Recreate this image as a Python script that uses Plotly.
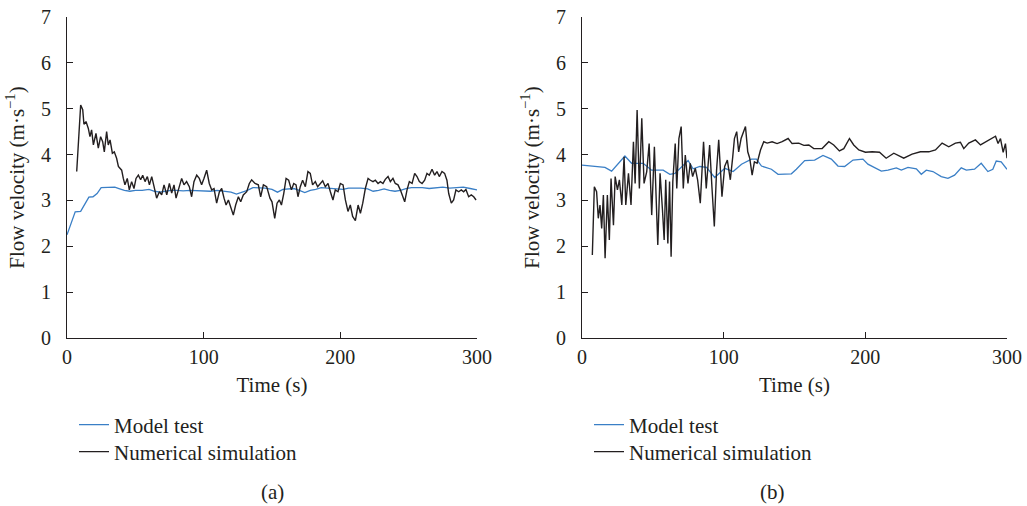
import plotly.graph_objects as go

# (a) model test
a_model_t = [0, 3, 6, 10, 13, 16, 19, 22, 25, 30, 35, 38, 42, 46, 50, 55, 60, 64, 68, 72, 76, 80, 85, 90, 95,
             100, 105, 110, 115, 120, 124, 128, 132, 136, 140, 145, 150, 154, 158, 162, 166, 170, 174, 178,
             182, 186, 190, 194, 198, 202, 206, 210, 215, 220, 224, 228, 232, 236, 240, 244, 248, 252, 256,
             260, 265, 270, 275, 280, 285, 290, 295, 300]
a_model_v = [2.25, 2.5, 2.75, 2.76, 2.9, 3.07, 3.08, 3.15, 3.28, 3.28, 3.29, 3.26, 3.22, 3.2, 3.22, 3.22, 3.24,
             3.2, 3.18, 3.2, 3.22, 3.22, 3.21, 3.22, 3.21, 3.21, 3.2, 3.22, 3.2, 3.18, 3.14, 3.18, 3.22, 3.28,
             3.28, 3.27, 3.24, 3.18, 3.24, 3.25, 3.26, 3.22, 3.17, 3.22, 3.24, 3.28, 3.27, 3.26, 3.25, 3.24,
             3.27, 3.27, 3.27, 3.25, 3.2, 3.22, 3.25, 3.22, 3.2, 3.22, 3.26, 3.28, 3.28, 3.28, 3.26, 3.28,
             3.29, 3.27, 3.28, 3.29, 3.26, 3.23]

# (a) numerical simulation
a_sim_t = [7.1, 10, 11.5, 12.4, 13.9, 15.6, 16.8, 18, 19.3, 21.2, 22.9, 24.6, 26.1, 27.3, 29, 30.2, 31.5,
           33.2, 34.6, 36.3, 37.6, 40, 41.2, 42.4, 44.1, 45.6, 47.3, 49, 50.5, 52.2, 53.9, 55.4, 57.1,
           58.8, 60.3, 62, 63.7, 65.6, 67.6, 69.3, 71, 73, 74.9, 76.6, 78.3, 79.8, 81.5, 83.9, 85.6, 87.5,
           89.5, 91.2, 92.9, 94.9, 96.8, 98.5, 100.2, 102.2, 104.1, 105.9, 107.6, 109.5, 111.5, 113.2,
           114.9, 116.4, 118.1, 119.8, 121.7, 123.4, 125.4, 127.1, 129, 131.5, 133.4, 135.1, 137.6, 140,
           141.7, 143.7, 146.1, 148.5,
           150, 152, 153.7, 155.4, 156.9, 158.6, 160.3, 162.2, 164.2, 165.9, 167.6, 169, 170.7, 172.4,
           174.4, 176.3, 178, 179.7, 181.7, 183.4, 185.4, 187.1, 189, 191, 192.7, 194.6, 196.3, 198.3,
           200, 202, 203.7, 205.6, 207.3, 209, 211, 213, 214.7, 216.4, 218.3, 220.3, 222, 223.9, 225.6,
           227.6, 229.3, 231.2, 232.9, 234.9, 236.6, 238.5, 240.2, 242.2, 243.9, 245.6, 247.1, 248.8,
           250.5, 252.5, 254.4, 256.1, 257.8, 259.8, 261.7, 263.4, 265.1, 267.1, 269, 270.7, 272.4,
           274.4, 276.3, 278, 279.3, 281.2, 282.9, 284.6, 286.6, 288.5, 290.2, 291.9, 293.9, 295.8,
           297.6, 299.3]
a_sim_v = [3.63, 5.08, 4.98, 4.66, 4.72, 4.57, 4.39, 4.54, 4.21, 4.46, 4.14, 4.39, 4.28, 4.06, 4.5, 4.21,
           4.32, 4.03, 4.06, 3.92, 3.74, 3.66, 3.48, 3.34, 3.48, 3.23, 3.41, 3.26, 3.48, 3.55, 3.45, 3.55,
           3.41, 3.52, 3.34, 3.52, 3.3, 3.05, 3.19, 3.12, 3.34, 3.12, 3.37, 3.16, 3.34, 3.05, 3.23, 3.48,
           3.34, 3.41, 3.3, 3.08, 3.41, 3.55, 3.48, 3.34, 3.48, 3.66, 3.37, 3.23, 3.26, 2.94, 3.19, 3.26,
           3.05, 2.9, 3.01, 2.83, 2.68, 2.9, 3.08, 2.97, 3.12, 3.19, 3.37, 3.45, 3.37, 3.34, 3.08, 3.34,
           3.3, 3.05,
           2.97, 2.61, 2.94, 3.01, 2.9, 3.15, 3.48, 3.44, 3.23, 3.37, 3.34, 3.08, 3.3, 3.44, 3.3, 3.63,
           3.59, 3.34, 3.41, 3.3, 3.37, 3.43, 3.3, 3.37, 3.19, 3.01, 3.23, 3.19, 3.37, 3.34, 3.01, 2.76,
           2.9, 2.65, 2.56, 2.9, 2.72, 2.94, 3.26, 3.48, 3.44, 3.41, 3.44, 3.37, 3.41, 3.37, 3.46, 3.52,
           3.41, 3.48, 3.37, 3.34, 3.23, 3.08, 2.97, 3.23, 3.41, 3.37, 3.59, 3.52, 3.41, 3.37, 3.44, 3.59,
           3.55, 3.68, 3.55, 3.63, 3.52, 3.63, 3.59, 3.44, 3.15, 2.94, 3.01, 3.23, 3.19, 3.23, 3.19, 3.24,
           3.08, 3.12, 3.08, 3.01]

# (b) model test
b_model_t = [0, 16.2, 20.9, 30.3, 35, 43.2, 49.1, 57.3, 62, 65.6, 74.9, 78.4, 83.2, 87.9, 93.7, 100.8,
             106.7, 112.6, 119.6, 123.1, 126.7, 133.7, 138.4, 147.8, 151.3, 157.2, 164.2, 170.1, 176,
             180.7, 185.4, 191.3, 198.3, 201.8, 211.3, 216, 221.9, 225.4, 230.1, 236, 239.5, 243, 247.7,
             253.6, 258.3, 263, 267.7, 271.3, 277.1, 281.8, 286.5, 290, 292.4, 295.9, 300]
b_model_v = [3.77, 3.72, 3.64, 3.97, 3.81, 3.81, 3.66, 3.66, 3.57, 3.59, 3.87, 3.69, 3.74, 3.72, 3.5, 3.7,
             3.63, 3.79, 3.9, 3.9, 3.75, 3.68, 3.57, 3.58, 3.68, 3.87, 3.88, 3.98, 3.9, 3.75, 3.74, 3.88,
             3.9, 3.79, 3.64, 3.66, 3.71, 3.66, 3.72, 3.69, 3.57, 3.66, 3.63, 3.52, 3.48, 3.55, 3.71, 3.66,
             3.68, 3.81, 3.63, 3.68, 3.86, 3.84, 3.68]

# (b) numerical simulation
b_sim_t = [7.3, 8.7, 10.3, 11.5, 12.7, 13.9, 15.1, 16.3, 17.9, 19.3, 20.5, 22.2, 23.4, 25, 26.4, 28.1,
           29.7, 30.9, 32.8, 34.6, 36.3, 37.5, 38.9, 40.5, 42.2, 43.8, 45.7, 47.4, 49.2, 51.1, 53.5, 55.1,
           56.8, 58, 59.1, 60.6, 61.8, 62.9, 64.1, 65.8, 66.9, 68.4, 70, 71.5, 72.9, 74.8, 76.4, 78.1, 80,
           81.6, 83.5, 85.8, 87.7, 90.1, 91.7, 93.4, 95, 96.5, 98.8, 100.7, 102.6, 104.7, 106.4, 107.6,
           109.2, 110.6, 112.3, 113.7, 115.4, 117, 118.4, 120.1, 121.7, 123.6, 126, 128.3, 130.7, 134.2,
           137.7, 141.3, 145.5, 148.3, 153, 156.6, 160.1, 163.6, 169.5, 174.2, 177.7, 181.7, 184.8, 188.8,
           191.8, 195.4, 200.1, 204.8, 210, 214.7, 220.1, 227.1, 233, 238.9, 244.8, 249.5, 254.2, 258.9,
           263.6, 267.1, 269.5, 273, 277.7, 281.3, 284.8, 288.3, 291.9, 293.7, 295.4, 297.3, 298.9, 300]
b_sim_v = [1.81, 3.3, 3.19, 2.61, 2.9, 2.39, 3.12, 1.74, 3.12, 2.14, 3.48, 2.46, 3.52, 3.23, 3.45, 2.9,
           3.95, 2.9, 3.59, 2.9, 4.28, 3.37, 4.97, 3.26, 4.79, 3.37, 3.63, 4.24, 2.68, 4.17, 2.03, 3.59,
           2.79, 2.14, 3.45, 2.06, 3.41, 1.77, 3.41, 4.24, 3.26, 4.35, 4.61, 3.26, 3.99, 3.37, 3.81, 3.52,
           3.7, 3.45, 2.94, 4.28, 3.26, 4.21, 3.3, 2.43, 3.66, 4.32, 3.08, 3.74, 3.88, 3.45, 3.95, 4.35,
           4.5, 4.06, 4.35, 4.46, 4.61, 4.06, 3.92, 3.55, 3.84, 3.81, 4.1, 4.28, 4.25, 4.28, 4.24, 4.28,
           4.35, 4.24, 4.25, 4.2, 4.21, 4.13, 4.13, 4.28, 4.21, 4.08, 4.13, 4.35, 4.21, 4.1, 4.05, 4.06,
           4.05, 3.92, 4.03, 3.92, 4.01, 4.06, 4.06, 4.1, 4.25, 4.17, 4.25, 4.27, 4.13, 4.25, 4.32, 4.21,
           4.27, 4.32, 4.4, 4.24, 4.35, 4.05, 4.24, 3.92]

x_ticks = [0, 100, 200, 300]
y_ticks = [0, 1, 2, 3, 4, 5, 6, 7]

BLUE = "#3a7fc6"
BLACK = "#231f20"
FONT = "Liberation Serif"

W, H = 1027, 506


def px(x):
    return x / W


def py(y):
    return (H - y) / H


TICK_FONT = dict(family=FONT, size=20, color=BLACK)
TEXT_FONT = dict(family=FONT, size=21, color=BLACK)

fig = go.Figure()

# panel (a)
fig.add_trace(go.Scatter(x=a_model_t, y=a_model_v, name="Model test", mode="lines",
                         line=dict(color=BLUE, width=1.3), xaxis="x", yaxis="y", legend="legend"))
fig.add_trace(go.Scatter(x=a_sim_t, y=a_sim_v, name="Numerical simulation", mode="lines",
                         line=dict(color=BLACK, width=1.4), xaxis="x", yaxis="y", legend="legend2"))
# panel (b)
fig.add_trace(go.Scatter(x=b_model_t, y=b_model_v, name="Model test", mode="lines",
                         line=dict(color=BLUE, width=1.3), xaxis="x2", yaxis="y2", legend="legend3"))
fig.add_trace(go.Scatter(x=b_sim_t, y=b_sim_v, name="Numerical simulation", mode="lines",
                         line=dict(color=BLACK, width=1.4), xaxis="x2", yaxis="y2", legend="legend4"))

axis_common = dict(showgrid=False, zeroline=False, showline=True, linecolor=BLACK, linewidth=1.2,
                   ticks="inside", ticklen=6, tickwidth=1, tickcolor=BLACK, automargin=False,
                   tickfont=TICK_FONT, ticklabeloverflow="allow")

xa = dict(axis_common, range=[0, 300], tickvals=x_ticks, ticklabelstandoff=1,
          title=dict(text="Time (s)", font=TEXT_FONT, standoff=10))
ya = dict(axis_common, range=[0, 7], tickvals=y_ticks, domain=[py(338), py(17)],
          ticklabelstandoff=11,
          title=dict(text="Flow velocity (m·s<sup>−1</sup>)", font=TEXT_FONT, standoff=10))

legend_common = dict(font=TEXT_FONT, bgcolor="rgba(0,0,0,0)",
                     xanchor="left", yanchor="middle", itemwidth=30)

fig.update_layout(
    width=W, height=H,
    margin=dict(l=0, r=0, t=0, b=0),
    paper_bgcolor="white", plot_bgcolor="white",
    xaxis=dict(xa, domain=[px(67), px(477)], anchor="y"),
    yaxis=dict(ya, anchor="x"),
    xaxis2=dict(xa, domain=[px(582), px(1007)], anchor="y2"),
    yaxis2=dict(ya, anchor="x2"),
    legend=dict(legend_common, x=px(74), y=py(425)),
    legend2=dict(legend_common, x=px(74), y=py(452)),
    legend3=dict(legend_common, x=px(589), y=py(425)),
    legend4=dict(legend_common, x=px(589), y=py(452)),
    showlegend=True,
    annotations=[
        dict(text="(a)", x=px(272), y=py(492), xref="paper", yref="paper", showarrow=False,
             xanchor="center", yanchor="middle", font=TEXT_FONT),
        dict(text="(b)", x=px(772), y=py(492), xref="paper", yref="paper", showarrow=False,
             xanchor="center", yanchor="middle", font=TEXT_FONT),
    ],
)

# drop the browser's default 8px page margin so the figure fills the window
fig.write_html("out.html", config={"displayModeBar": False},
               post_script="document.body.style.margin='0';")
